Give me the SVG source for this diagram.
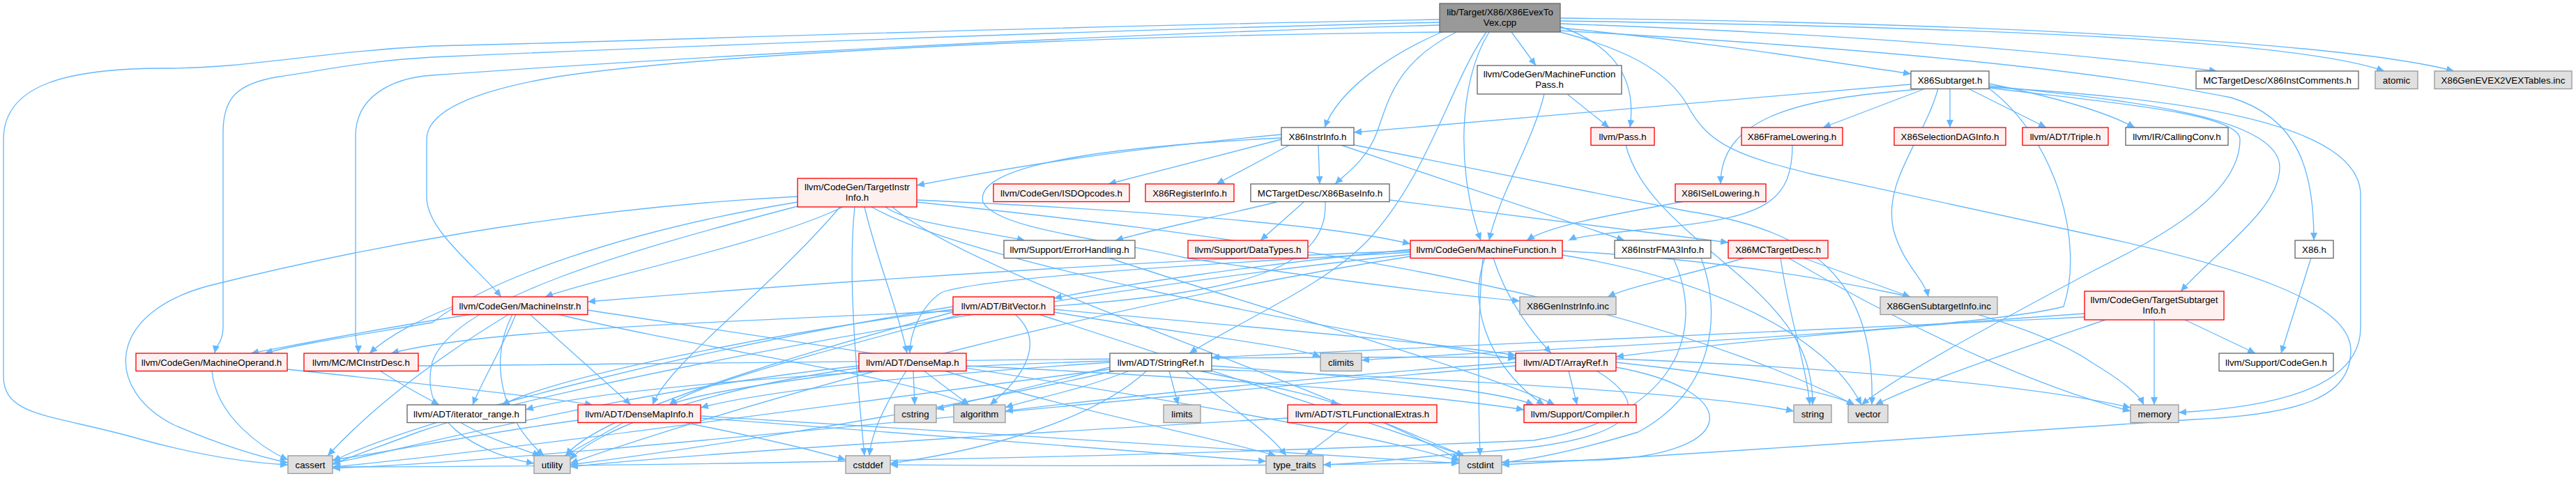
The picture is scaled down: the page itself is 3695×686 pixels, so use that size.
<svg xmlns="http://www.w3.org/2000/svg" width="3695" height="686" viewBox="0 0 3695 686">
<style>
text{font-family:"Liberation Sans",Arial,Helvetica,sans-serif;font-size:13.33px;text-anchor:middle;fill:#000}
.w rect{fill:#fff;stroke:#666;stroke-width:1.33}
.r rect{fill:#fff0f0;stroke:#ff0000;stroke-width:1.33}
.g rect{fill:#e0e0e0;stroke:#999;stroke-width:1.33}
.k rect{fill:#999;stroke:#666;stroke-width:1.33}
#edges path{fill:none;stroke:#63b8ff;stroke-width:1.33;marker-end:url(#a)}
</style>
<defs>
<marker id="a" markerUnits="userSpaceOnUse" markerWidth="12" markerHeight="10" refX="11" refY="5" orient="auto"><path d="M0,0 L11,5 L0,10 z" fill="#63b8ff" stroke="none"/></marker>
</defs>
<rect width="3695" height="686" fill="#fff"/>
<g id="edges">
<!-- root -->
<path d="M2065,28 C1400,40 900,60 620,66 C450,75 360,98 237,98 C100,98 5,120 5,200 L5,540 C5,600 80,595 200,630 C280,652 350,664 413,667"/>
<path d="M2065,32 C1500,45 900,70 620,82 C520,88 470,100 400,110 C340,120 320,140 320,190 L320,470 C320,490 310,495 308,507"/>
<path d="M2065,36 C1400,55 800,95 620,108 C560,112 510,140 510,195 L510,480 C510,495 514,500 514,507"/>
<path d="M2070,46 C1500,52 1000,80 800,110 C680,130 612,160 612,200 L612,283 C612,330 680,380 719,426"/>
<path d="M2068,46 C1990,80 1920,130 1900,183"/>
<path d="M2089,46 C2000,90 1990,150 1975,190 C1960,230 1930,250 1915,264"/>
<path d="M2132,46 C2080,120 2050,250 1962,345 C1900,410 1780,460 1706,507"/>
<path d="M2136,46 C2090,120 2090,250 2124,345"/>
<path d="M2168,46 L2203,94"/>
<path d="M2238,38 C2300,60 2350,100 2338,183"/>
<path d="M2238,40 C2450,60 2600,85 2741,106"/>
<path d="M2238,34 C2700,50 3000,80 3180,102"/>
<path d="M2238,30 C2900,40 3300,60 3420,102"/>
<path d="M2238,26 C3000,35 3400,70 3520,102"/>
<path d="M2238,44 C2700,70 3000,100 3200,140 C3300,170 3319,250 3319,345"/>
<path d="M2238,46 C2330,70 2390,100 2420,150 C2450,210 2500,225 2600,250 L3000,337 C3200,380 3372,430 3372,503 C3372,570 3300,595 3146,602 C2800,625 2400,655 2154,667"/>
<!-- mfp -->
<path d="M2215,135 C2200,200 2150,280 2136,345"/>
<path d="M2248,135 L2308,183"/>
<!-- subtarget -->
<path d="M2762,127 L2615,183"/>
<path d="M2765,127 C2600,140 2468,160 2468,264"/>
<path d="M2741,121 L1942,190"/>
<path d="M2797,127 L2797,183"/>
<path d="M2823,127 L2935,183"/>
<path d="M2853,120 C2950,140 3020,160 3062,183"/>
<path d="M2853,123 C3000,140 3270,160 3270,240 C3270,300 3180,360 3128,418"/>
<path d="M2853,125 C3100,140 3386,170 3386,280 L3386,470 C3386,560 3250,585 3125,592"/>
<path d="M2853,126 C3000,145 3213,160 3213,200 C3213,280 3100,340 3000,390 C2850,470 2720,540 2670,581"/>
<path d="M2780,127 C2760,200 2700,260 2716,330 C2730,380 2760,400 2766,426"/>
<path d="M2853,127 C2950,200 2990,350 2960,440 C2800,480 2100,505 1953,517"/>
<!-- instrinfo -->
<path d="M1838,193 C1600,215 1450,240 1315,266"/>
<path d="M1838,200 L1590,264"/>
<path d="M1850,208 L1745,264"/>
<path d="M1891,208 L1893,264"/>
<path d="M1923,208 L2330,345"/>
<path d="M1942,208 L2420,303 C2600,330 2690,400 2685,581"/>
<path d="M1838,198 C1500,215 1400,250 1410,290 C1430,330 1600,345 1700,370 C1900,400 2050,420 2180,432"/>
<!-- tii -->
<path d="M1209,297 C1100,350 850,400 782,426"/>
<path d="M1205,297 C1100,420 960,520 936,581"/>
<path d="M1240,297 C1260,380 1290,450 1301,507"/>
<path d="M1226,297 C1215,400 1230,550 1240,654"/>
<path d="M1144,290 C900,330 700,400 620,463 C520,480 420,495 380,507"/>
<path d="M1144,282 C800,300 500,360 300,410 C150,450 150,560 250,610 C320,640 370,655 413,664"/>
<path d="M1144,296 C900,360 650,430 620,520 C600,600 680,650 766,665"/>
<path d="M1270,297 C1300,320 1400,330 1470,345"/>
<path d="M1315,287 C1600,300 1900,320 2023,350"/>
<path d="M1315,290 C1700,330 2300,400 2660,581"/>
<path d="M1250,297 C1400,380 1900,470 2174,515"/>
<path d="M1280,297 C1400,400 1900,550 2093,660"/>
<!-- baseinfo -->
<path d="M1993,287 L2479,348"/>
<path d="M1901,290 C1905,380 1800,420 1500,440 C1100,460 700,470 561,507"/>
<path d="M1870,290 L1808,345"/>
<path d="M1831,290 C1750,310 1650,330 1600,345"/>
<!-- misc -->
<path d="M2332,208 C2350,280 2420,330 2500,400 C2580,470 2600,520 2600,581"/>
<path d="M2571,208 C2571,290 2530,310 2400,325 C2300,335 2260,340 2250,345"/>
<path d="M2416,289 C2300,310 2220,325 2190,345"/>
<path d="M1590,370 C1800,440 2150,540 2230,581"/>
<!-- mf -->
<path d="M2142,370 C2160,430 2200,480 2225,507"/>
<path d="M2130,370 C2100,450 2150,540 2215,581"/>
<path d="M2127,370 C2120,450 2120,560 2123,654"/>
<path d="M2023,358 C1800,380 1600,410 1512,428"/>
<path d="M2023,362 C1700,380 1400,400 1350,420 C1320,440 1305,480 1305,507"/>
<path d="M2023,360 C1500,380 1000,420 843,433"/>
<path d="M2023,365 C1500,420 800,550 600,620 C520,650 490,660 477,667"/>
<path d="M2023,368 C1500,450 1000,600 818,665"/>
<path d="M2241,360 C2600,380 2900,450 3000,520 C3050,550 3070,570 3075,581"/>
<path d="M2241,366 C2450,400 2620,480 2670,581"/>
<!-- fma3 -->
<path d="M2440,370 C2470,450 2460,560 2350,620 C2250,650 2190,660 2154,664"/>
<path d="M2400,370 C2450,480 2400,600 2200,632 C1500,662 800,670 477,670"/>
<!-- mctd -->
<path d="M2503,370 C2420,395 2340,410 2306,426"/>
<path d="M2586,370 L2740,426"/>
<path d="M2554,370 C2565,450 2590,520 2596,581"/>
<path d="M2565,370 C2700,450 2900,550 3056,590"/>
<path d="M3315,370 L3272,507"/>
<!-- minstr -->
<path d="M740,451 C720,500 690,550 678,581"/>
<path d="M760,451 L905,581"/>
<path d="M678,451 C550,470 450,490 360,507"/>
<path d="M649,440 C600,460 560,480 530,507"/>
<path d="M730,451 C600,530 520,600 470,654"/>
<path d="M735,451 C700,520 720,600 780,654"/>
<path d="M800,451 C1000,500 1300,540 1390,581"/>
<path d="M843,445 C1200,500 1900,600 2093,662"/>
<!-- bitvector -->
<path d="M1456,451 C1500,490 1470,540 1420,581"/>
<path d="M1367,444 C1100,480 800,540 720,581"/>
<path d="M1380,451 C1200,500 1000,550 960,581"/>
<path d="M1367,448 C1100,520 850,600 812,654"/>
<path d="M1367,440 C1000,500 600,600 477,662"/>
<path d="M1512,448 C1700,480 1850,495 1894,512"/>
<path d="M1512,444 C1800,470 2050,490 2174,510"/>
<path d="M1490,451 C1700,520 1950,600 2100,654"/>
<!-- tsi -->
<path d="M3090,459 L3090,581"/>
<path d="M3134,459 L3235,507"/>
<path d="M3020,459 C2900,500 2750,550 2690,581"/>
<path d="M2990,450 C2700,470 2450,495 2318,512"/>
<path d="M2990,455 C2500,480 2000,500 1738,513"/>
<!-- mop, mcid -->
<path d="M304,532 C310,600 380,645 413,660"/>
<path d="M412,530 C600,550 780,570 850,581"/>
<path d="M545,532 C580,555 610,570 630,581"/>
<path d="M600,525 C1200,520 1900,510 2174,513"/>
<!-- densemap -->
<path d="M1310,532 L1312,581"/>
<path d="M1325,532 L1390,581"/>
<path d="M1240,532 C1100,550 1000,565 960,581"/>
<path d="M1300,532 C1270,580 1250,620 1247,654"/>
<path d="M1232,528 C1000,560 850,620 818,660"/>
<path d="M1232,525 C900,560 600,640 477,665"/>
<path d="M1355,532 C1500,580 1750,630 1830,654"/>
<path d="M1386,525 C1700,540 2000,560 2186,588"/>
<!-- stringref -->
<path d="M1677,532 L1690,581"/>
<path d="M1720,532 C1800,550 1880,565 1920,581"/>
<path d="M1738,525 C1950,540 2150,560 2200,581"/>
<path d="M1738,530 C2100,545 2450,565 2573,590"/>
<path d="M1620,532 C1550,560 1470,575 1442,585"/>
<path d="M1592,527 C1500,550 1400,575 1343,587"/>
<path d="M1592,520 C1300,540 1100,560 1005,585"/>
<path d="M1592,518 C1200,530 850,560 754,588"/>
<path d="M1645,532 C1550,620 1350,655 1277,665"/>
<path d="M1700,532 C1760,580 1820,620 1845,654"/>
<path d="M1600,532 C1300,600 950,650 818,667"/>
<path d="M1592,530 C1200,580 700,650 477,670"/>
<!-- arrayref -->
<path d="M2250,532 L2262,581"/>
<path d="M2318,515 C2700,530 2950,560 3056,585"/>
<path d="M2318,520 C2500,540 2620,560 2660,581"/>
<path d="M2290,532 C2400,600 2300,640 2100,650 C2000,660 1950,665 1898,667"/>
<path d="M2318,527 C2500,560 2500,650 2300,660 C1800,672 1400,668 1277,667"/>
<path d="M2174,520 C1900,540 1600,570 1442,590"/>
<path d="M2174,525 C1500,580 800,660 477,672"/>
<!-- lower -->
<path d="M660,606 C700,630 750,645 775,654"/>
<path d="M895,606 L810,654"/>
<path d="M830,603 C700,620 550,650 477,660"/>
<path d="M980,606 C1100,630 1180,650 1213,660"/>
<path d="M1005,600 C1300,620 1600,645 1816,662"/>
<path d="M1005,597 C1400,620 1800,650 2093,665"/>
<path d="M1935,606 L1872,654"/>
<path d="M1985,606 L2100,654"/>
<path d="M1847,600 C1500,620 1000,650 818,670"/>
</g>
<g id="root" class="k"><rect x="2065" y="5" width="173" height="41"/><text x="2151.5" y="22">lib/Target/X86/X86EvexTo</text><text x="2151.5" y="37">Vex.cpp</text></g>
<g id="mfp" class="w"><rect x="2119" y="94" width="207" height="41"/><text x="2222.5" y="111">llvm/CodeGen/MachineFunction</text><text x="2222.5" y="126">Pass.h</text></g>
<g id="subtarget" class="w"><rect x="2741" y="102" width="112" height="25.5"/><text x="2797" y="119.5">X86Subtarget.h</text></g>
<g id="instcomments" class="w"><rect x="3150" y="102" width="233" height="25.5"/><text x="3266.5" y="119.5">MCTargetDesc/X86InstComments.h</text></g>
<g id="atomic" class="g"><rect x="3407" y="102" width="61" height="25.5"/><text x="3437.5" y="119.5">atomic</text></g>
<g id="evex2vex" class="g"><rect x="3492" y="102" width="197" height="25.5"/><text x="3590.5" y="119.5">X86GenEVEX2VEXTables.inc</text></g>
<g id="instrinfo" class="w"><rect x="1838" y="183" width="104" height="25.5"/><text x="1890" y="200.5">X86InstrInfo.h</text></g>
<g id="pass" class="r"><rect x="2282" y="183" width="91" height="25.5"/><text x="2327.5" y="200.5">llvm/Pass.h</text></g>
<g id="framelowering" class="r"><rect x="2498" y="183" width="145" height="25.5"/><text x="2570.5" y="200.5">X86FrameLowering.h</text></g>
<g id="seldag" class="r"><rect x="2717" y="183" width="160" height="25.5"/><text x="2797" y="200.5">X86SelectionDAGInfo.h</text></g>
<g id="triple" class="r"><rect x="2901" y="183" width="123" height="25.5"/><text x="2962.5" y="200.5">llvm/ADT/Triple.h</text></g>
<g id="callingconv" class="w"><rect x="3049" y="183" width="147" height="25.5"/><text x="3122.5" y="200.5">llvm/IR/CallingConv.h</text></g>
<g id="tii" class="r"><rect x="1144" y="256" width="171" height="41"/><text x="1229.5" y="273">llvm/CodeGen/TargetInstr</text><text x="1229.5" y="288">Info.h</text></g>
<g id="isd" class="r"><rect x="1425" y="264" width="195" height="25.5"/><text x="1522.5" y="281.5">llvm/CodeGen/ISDOpcodes.h</text></g>
<g id="reginfo" class="r"><rect x="1643" y="264" width="127" height="25.5"/><text x="1706.5" y="281.5">X86RegisterInfo.h</text></g>
<g id="baseinfo" class="w"><rect x="1794" y="264" width="199" height="25.5"/><text x="1893.5" y="281.5">MCTargetDesc/X86BaseInfo.h</text></g>
<g id="isel" class="r"><rect x="2403" y="264" width="130" height="25.5"/><text x="2468" y="281.5">X86ISelLowering.h</text></g>
<g id="errh" class="w"><rect x="1440" y="345" width="188" height="25.5"/><text x="1534" y="362.5">llvm/Support/ErrorHandling.h</text></g>
<g id="datatypes" class="r"><rect x="1704" y="345" width="172" height="25.5"/><text x="1790" y="362.5">llvm/Support/DataTypes.h</text></g>
<g id="mf" class="r"><rect x="2023" y="345" width="218" height="25.5"/><text x="2132" y="362.5">llvm/CodeGen/MachineFunction.h</text></g>
<g id="fma3" class="w"><rect x="2316" y="345" width="138" height="25.5"/><text x="2385" y="362.5">X86InstrFMA3Info.h</text></g>
<g id="mctd" class="r"><rect x="2479" y="345" width="143" height="25.5"/><text x="2550.5" y="362.5">X86MCTargetDesc.h</text></g>
<g id="x86h" class="w"><rect x="3292" y="345" width="55" height="25.5"/><text x="3319.5" y="362.5">X86.h</text></g>
<g id="minstr" class="r"><rect x="649" y="426" width="194" height="25.5"/><text x="746" y="443.5">llvm/CodeGen/MachineInstr.h</text></g>
<g id="bitvector" class="r"><rect x="1367" y="426" width="145" height="25.5"/><text x="1439.5" y="443.5">llvm/ADT/BitVector.h</text></g>
<g id="geninstr" class="g"><rect x="2180" y="426" width="138" height="25.5"/><text x="2249" y="443.5">X86GenInstrInfo.inc</text></g>
<g id="gensub" class="g"><rect x="2697" y="426" width="168" height="25.5"/><text x="2781" y="443.5">X86GenSubtargetInfo.inc</text></g>
<g id="tsi" class="r"><rect x="2990" y="418" width="200" height="41"/><text x="3090" y="435">llvm/CodeGen/TargetSubtarget</text><text x="3090" y="450">Info.h</text></g>
<g id="mop" class="r"><rect x="195" y="507" width="217" height="25.5"/><text x="303.5" y="524.5">llvm/CodeGen/MachineOperand.h</text></g>
<g id="mcid" class="r"><rect x="436" y="507" width="164" height="25.5"/><text x="518" y="524.5">llvm/MC/MCInstrDesc.h</text></g>
<g id="densemap" class="r"><rect x="1232" y="507" width="154" height="25.5"/><text x="1309" y="524.5">llvm/ADT/DenseMap.h</text></g>
<g id="stringref" class="w"><rect x="1592" y="507" width="146" height="25.5"/><text x="1665" y="524.5">llvm/ADT/StringRef.h</text></g>
<g id="climits" class="g"><rect x="1894" y="507" width="59" height="25.5"/><text x="1923.5" y="524.5">climits</text></g>
<g id="arrayref" class="r"><rect x="2174" y="507" width="144" height="25.5"/><text x="2246" y="524.5">llvm/ADT/ArrayRef.h</text></g>
<g id="cgh" class="w"><rect x="3183" y="507" width="164" height="25.5"/><text x="3265" y="524.5">llvm/Support/CodeGen.h</text></g>
<g id="iterrange" class="w"><rect x="584" y="581" width="170" height="25.5"/><text x="669" y="598.5">llvm/ADT/iterator_range.h</text></g>
<g id="dmi" class="r"><rect x="829" y="581" width="176" height="25.5"/><text x="917" y="598.5">llvm/ADT/DenseMapInfo.h</text></g>
<g id="cstring" class="g"><rect x="1283" y="581" width="60" height="25.5"/><text x="1313" y="598.5">cstring</text></g>
<g id="algorithm" class="g"><rect x="1368" y="581" width="74" height="25.5"/><text x="1405" y="598.5">algorithm</text></g>
<g id="limits" class="g"><rect x="1669" y="581" width="53" height="25.5"/><text x="1695.5" y="598.5">limits</text></g>
<g id="stlfe" class="r"><rect x="1847" y="581" width="214" height="25.5"/><text x="1954" y="598.5">llvm/ADT/STLFunctionalExtras.h</text></g>
<g id="compiler" class="r"><rect x="2186" y="581" width="161" height="25.5"/><text x="2266.5" y="598.5">llvm/Support/Compiler.h</text></g>
<g id="string" class="g"><rect x="2573" y="581" width="54" height="25.5"/><text x="2600" y="598.5">string</text></g>
<g id="vector" class="g"><rect x="2651" y="581" width="57" height="25.5"/><text x="2679.5" y="598.5">vector</text></g>
<g id="memory" class="g"><rect x="3056" y="581" width="69" height="25.5"/><text x="3090.5" y="598.5">memory</text></g>
<g id="cassert" class="g"><rect x="413" y="654" width="64" height="25.5"/><text x="445" y="671.5">cassert</text></g>
<g id="utility" class="g"><rect x="766" y="654" width="52" height="25.5"/><text x="792" y="671.5">utility</text></g>
<g id="cstddef" class="g"><rect x="1213" y="654" width="64" height="25.5"/><text x="1245" y="671.5">cstddef</text></g>
<g id="type_traits" class="g"><rect x="1816" y="654" width="82" height="25.5"/><text x="1857" y="671.5">type_traits</text></g>
<g id="cstdint" class="g"><rect x="2093" y="654" width="61" height="25.5"/><text x="2123.5" y="671.5">cstdint</text></g>
</svg>
